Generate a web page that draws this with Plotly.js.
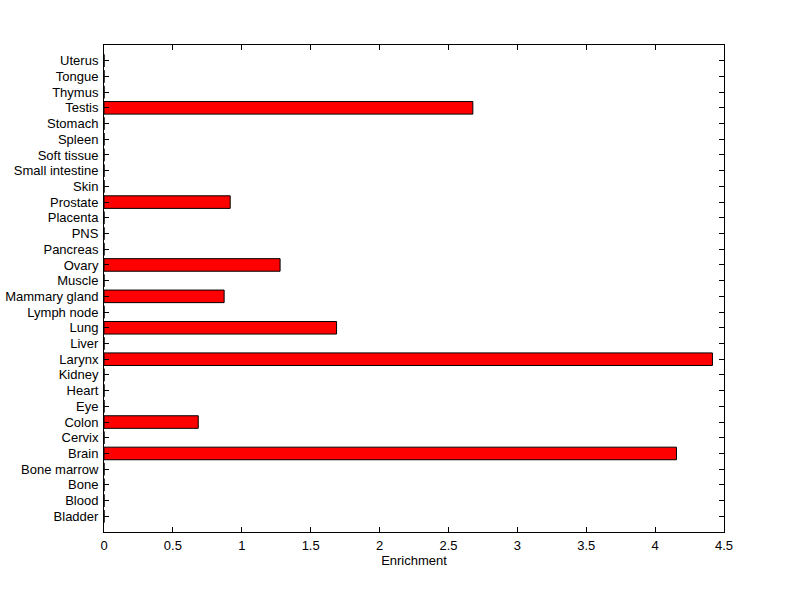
<!DOCTYPE html>
<html>
<head>
<meta charset="utf-8">
<script src="https://cdn.plot.ly/plotly-3.0.1.min.js"></script>
<style>html,body{margin:0;padding:0;background:#fff;}</style>
</head>
<body>
<div id="chart" style="width:800px;height:599px;"></div>
<script>
const tissues = ["Bladder","Blood","Bone","Bone marrow","Brain","Cervix","Colon","Eye","Heart","Kidney","Larynx","Liver","Lung","Lymph node","Mammary gland","Muscle","Ovary","Pancreas","PNS","Placenta","Prostate","Skin","Small intestine","Soft tissue","Spleen","Stomach","Testis","Thymus","Tongue","Uterus"];
const enrichment = [0,0,0,0,4.155,0,0.684,0,0,0,4.416,0,1.688,0,0.872,0,1.278,0,0,0,0.916,0,0,0,0,0,2.677,0,0,0];
const xTicks = [0,0.5,1,1.5,2,2.5,3,3.5,4,4.5];
const positions = tissues.map((t,i)=>i+1);

const font = {family:'Liberation Sans, Arial, Helvetica, sans-serif', size:13, color:'#000'};
Plotly.newPlot('chart', [{
  type:'bar', orientation:'h',
  y: positions, x: enrichment, width:0.8,
  marker:{color:'#ff0000', line:{color:'#000', width:1}},
  hoverinfo:'none'
}], {
  width:800, height:599,
  margin:{l:104, r:76, t:45, b:67, pad:0},
  paper_bgcolor:'#fff', plot_bgcolor:'#fff',
  font: font,
  showlegend:false,
  xaxis:{range:[0,4.5], tickvals:xTicks, ticktext:xTicks.map(String), ticks:'inside', ticklen:5, tickcolor:'#000',
    showline:true, linecolor:'#000', linewidth:1, mirror:'ticks', showgrid:false, zeroline:false,
    title:{text:'Enrichment', font:font, standoff:3}, tickfont:font, ticklabelstandoff:1},
  yaxis:{range:[0,31], tickvals:positions, ticktext:tissues, ticks:'inside', ticklen:5, tickcolor:'#000',
    showline:true, linecolor:'#000', linewidth:1, mirror:'ticks', showgrid:false, zeroline:false,
    tickfont:font, automargin:false, ticklabelstandoff:2}
}, {staticPlot:true});
</script>
</body>
</html>
